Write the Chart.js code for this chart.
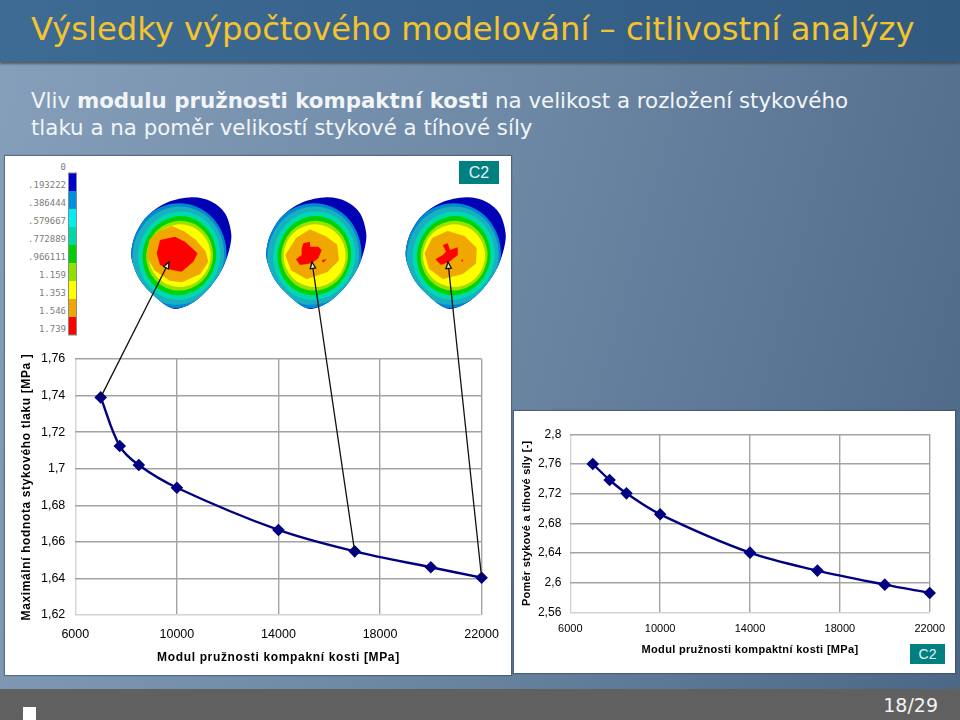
<!DOCTYPE html>
<html lang="cs">
<head>
<meta charset="utf-8">
<title>Výsledky výpočtového modelování</title>
<script src="https://cdn.jsdelivr.net/npm/chart.js@4"></script>
<style>
    html, body { margin: 0; padding: 0; }
    body {
        width: 960px; height: 720px; position: relative; overflow: hidden;
        font-family: 'DejaVu Sans', sans-serif;
        background: linear-gradient(105deg, #86a0bb 0%, #6c87a4 50%, #4c6786 100%);
    }
    .header {
        position: absolute; left: 0; top: 0; width: 960px; height: 62px;
        background: linear-gradient(90deg, #3d6b94, #36618a 50%, #315a80);
        box-shadow: 0 2px 2px rgba(70, 70, 70, 0.75);
    }
    .header h1 {
        position: absolute; left: 31px; top: 9px; margin: 0; white-space: nowrap;
        font-size: 32.2px; line-height: 40px; font-weight: normal; color: #f4c430;
    }
    .lead {
        position: absolute; left: 31px; top: 87px; margin: 0; width: 910px;
        font-size: 21.35px; line-height: 27px; color: #f2f5f8;
    }
    .footer {
        position: absolute; left: 0; top: 689px; width: 960px; height: 31px; background: #606060;
    }
    .footer .mark { position: absolute; left: 23px; top: 18px; width: 13px; height: 13px; background: #fff; }
    .footer .page { position: absolute; right: 22px; top: 3px; font-size: 19px; line-height: 26px; color: #f4f4f4; }
    .panel { position: absolute; background: #fff; box-shadow: 0 0 1px 1px rgba(60, 70, 90, 0.55); }
    .panel canvas, .panel svg { position: absolute; left: 0; top: 0; }
    .badge {
        position: absolute; background: #008080; color: #e8f2f2; text-align: center;
        font-family: 'Liberation Sans', sans-serif;
    }
</style>
</head>
<body>
<div class="header"><h1>Výsledky výpočtového modelování – citlivostní analýzy</h1></div>
<p class="lead">Vliv <b>modulu pružnosti kompaktní kosti</b> na velikost a rozložení stykového<br>tlaku a na poměr velikostí stykové a tíhové síly</p>

<div class="panel" style="left:5px;top:156px;width:506px;height:519px">
    <svg id="fem" width="506" height="330"></svg>
    <canvas id="pressureChart" width="506" height="519"></canvas>
    <div class="badge" style="left:454px;top:5px;width:40px;height:23px;font-size:16px;line-height:23px">C2</div>
</div>

<div class="panel" style="left:514px;top:411px;width:441px;height:262px">
    <canvas id="ratioChart" width="441" height="262"></canvas>
    <div class="badge" style="left:396px;top:233px;width:35px;height:20px;font-size:14px;line-height:20px">C2</div>
</div>

<div class="footer"><div class="mark"></div><div class="page">18/29</div></div>

<script>
    // hodnoty
    const modulus = [7000, 7750, 8500, 10000, 14000, 17000, 20000, 22000];
    const maxPressure = [1.739, 1.7124, 1.702, 1.6896, 1.6665, 1.6548, 1.6461, 1.6404];
    const forceRatio = [2.76, 2.7384, 2.7204, 2.6921, 2.6404, 2.6162, 2.5973, 2.5861];

    const xTicks = [6000, 10000, 14000, 18000, 22000];
    const pressureTicks = [1.62, 1.64, 1.66, 1.68, 1.7, 1.72, 1.74, 1.76];
    const ratioTicks = [2.56, 2.6, 2.64, 2.68, 2.72, 2.76, 2.8];

    // moduly, na které ukazují šipky od kontaktních map
    const arrowModuli = [7000, 17000, 22000];

    const legendLabels = ['0', '.193222', '.386444', '.579667', '.772889', '.966111', '1.159', '1.353', '1.546', '1.739'];
    const legendColors = ['#0000c8', '#0090e0', '#00f0f0', '#00d8a8', '#00d000', '#90e000', '#ffff00', '#f0a800', '#ff0000'];

    const colors = { line: '#000080', grid: '#a3a3a3', gridLight: '#d4d4d4', text: '#000' };
    const fontFamily = "'Liberation Sans', Arial, sans-serif";

    // — mapy kontaktního tlaku (jen ilustrace, žádná data)
    const smooth = pts => {
        let d = `M${pts[0][0]},${pts[0][1]}`;
        for (let i = 0; i < pts.length; i++) {
            const p0 = pts[(i - 1 + pts.length) % pts.length], p1 = pts[i];
            const p2 = pts[(i + 1) % pts.length], p3 = pts[(i + 2) % pts.length];
            d += `C${p1[0] + (p2[0] - p0[0]) / 6},${p1[1] + (p2[1] - p0[1]) / 6} ` +
                 `${p2[0] - (p3[0] - p1[0]) / 6},${p2[1] - (p3[1] - p1[1]) / 6} ${p2[0]},${p2[1]}`;
        }
        return d + 'Z';
    };
    const poly = pts => 'M' + pts.map(p => p.join(',')).join('L') + 'Z';

    const outline = [[200,22],[260,35],[300,70],[318,125],[315,170],[295,230],[260,285],[215,330],[165,355],[130,350],[85,315],[45,270],[22,215],[20,175],[35,125],[70,75],[125,38]];
    // barva, střed x, y, poloosy
    const bands = [
        ['#0088d0', 158, 197, 146, 158],
        ['#18b0c0', 160, 197, 137, 148],
        ['#00d8b0', 163, 197, 123, 133],
        ['#00d400', 163, 197, 110, 119],
        ['#9ce000', 164, 197, 100, 105],
        ['#ffff00', 164, 197, 93, 94]
    ];
    const hearts = [
        { dx: 0, orange: [[105,125],[140,110],[175,125],[210,150],[240,185],[248,215],[225,250],[170,275],[135,270],[90,240],[68,200],[75,150]],
          red: [[[105,150],[150,140],[180,155],[218,190],[205,215],[170,245],[140,240],[105,225],[95,190]]] },
        { dx: 135, orange: [[110,145],[150,120],[195,140],[230,165],[235,210],[200,245],[140,265],[95,240],[78,195]],
          red: [[[130,160],[150,155],[150,170],[175,170],[185,180],[175,205],[155,220],[120,225],[108,208],[125,195],[125,175]], [[185,210],[200,208],[190,218]]] },
        { dx: 274.4, orange: [[100,145],[145,125],[195,140],[230,175],[228,220],[190,250],[130,265],[90,235],[78,190]],
          red: [[[130,165],[145,160],[152,180],[175,172],[175,195],[150,215],[125,225],[108,208],[130,195],[140,185]], [[186,209],[191,209],[191,214],[186,214]]] }
    ];

    let femSvg = `<defs><clipPath id="egg"><path d="${smooth(outline)}"/></clipPath></defs>`;
    femSvg += `<g font-family="'DejaVu Sans Mono', monospace" font-size="9" fill="#7c7c7c" text-anchor="end">`;
    legendLabels.forEach((t, i) => { femSvg += `<text x="61" y="${14 + i * 18}">${t}</text>`; });
    femSvg += '</g>';
    legendColors.forEach((c, i) => { femSvg += `<rect x="64" y="${17 + i * 18}" width="7" height="18" fill="${c}"/>`; });
    femSvg += '<rect x="63.5" y="17" width="8" height="162" fill="none" stroke="#8a8a8a"/>';
    hearts.forEach(h => {
        femSvg += `<g transform="translate(${120 + h.dx},34) scale(0.3333)">`;
        femSvg += `<path d="${smooth(outline)}" fill="#0000b4"/><g clip-path="url(#egg)">`;
        bands.forEach(([c, cx, cy, rx, ry]) => {
            femSvg += `<ellipse cx="${cx}" cy="${cy}" rx="${rx}" ry="${ry}" fill="${c}" transform="rotate(12 ${cx} ${cy})"/>`;
        });
        femSvg += '</g>';
        femSvg += `<path d="${poly(h.orange)}" fill="#f0a800" stroke="#f0a800" stroke-width="4" stroke-linejoin="round"/>`;
        h.red.forEach(r => { femSvg += `<path d="${poly(r)}" fill="#ff0000"/>`; });
        femSvg += '</g>';
    });
    document.getElementById('fem').innerHTML = femSvg;

    // — šipka od bodu grafu k mapě
    const arrowPlugin = {
        id: 'fieldArrows',
        afterDraw(chart, args, opts) {
            if (!opts.tips) return;
            const { ctx, scales } = chart;
            ctx.save();
            ctx.strokeStyle = '#111';
            ctx.fillStyle = '#f4ecd0';
            ctx.lineWidth = 1.3;
            arrowModuli.forEach((m, i) => {
                const x0 = scales.x.getPixelForValue(m);
                const y0 = scales.y.getPixelForValue(maxPressure[modulus.indexOf(m)]);
                const [x1, y1] = opts.tips[i];
                const a = Math.atan2(y1 - y0, x1 - x0);
                ctx.beginPath();
                ctx.moveTo(x0, y0);
                ctx.lineTo(x1, y1);
                ctx.stroke();
                ctx.beginPath();
                ctx.moveTo(x1, y1);
                ctx.lineTo(x1 - 7 * Math.cos(a - 0.4), y1 - 7 * Math.sin(a - 0.4));
                ctx.lineTo(x1 - 7 * Math.cos(a + 0.4), y1 - 7 * Math.sin(a + 0.4));
                ctx.closePath();
                ctx.fill();
                ctx.stroke();
            });
            ctx.restore();
        }
    };

    // — názvy os mají v originále proložené písmo
    const titleSpacing = {
        id: 'titleSpacing',
        beforeDraw(chart) {
            Object.values(chart.scales).forEach(s => {
                if (s.spaced) return;
                const draw = s.drawTitle.bind(s);
                s.drawTitle = () => {
                    chart.ctx.letterSpacing = s.options.title.spacing;
                    draw();
                    chart.ctx.letterSpacing = '0px';
                };
                s.spaced = true;
            });
        }
    };

    const createChart = (id, cfg) => new Chart(document.getElementById(id).getContext('2d'), {
        type: 'line',
        plugins: [arrowPlugin, titleSpacing],
        data: {
            datasets: [{
                data: modulus.map((x, i) => ({ x, y: cfg.values[i] })),
                borderColor: colors.line,
                backgroundColor: colors.line,
                borderWidth: 2.4,
                tension: 0.35,
                pointStyle: 'rectRot',
                pointRadius: 4.6,
                pointHoverRadius: 4.6,
                clip: false
            }]
        },
        options: {
            responsive: false,
            animation: false,
            layout: { padding: cfg.padding },
            plugins: {
                legend: { display: false },
                tooltip: { enabled: false },
                fieldArrows: { tips: cfg.tips }
            },
            scales: {
                x: {
                    type: 'linear',
                    min: xTicks[0],
                    max: xTicks[xTicks.length - 1],
                    afterBuildTicks: s => { s.ticks = xTicks.map(value => ({ value })); },
                    afterFit: s => { s.height = cfg.xHeight; },
                    ticks: {
                        color: colors.text, padding: cfg.xPad, maxRotation: 0, autoSkip: false,
                        font: { family: fontFamily, size: cfg.xSize },
                        callback: v => String(v)
                    },
                    border: { display: false },
                    grid: {
                        drawTicks: false, lineWidth: 1.4,
                        color: c => c.index === 0 ? colors.gridLight : colors.grid
                    },
                    title: {
                        display: true, text: cfg.xTitle, color: colors.text, padding: 0, spacing: cfg.xSpacing,
                        font: { family: fontFamily, size: cfg.titleSize, weight: 'bold' }
                    }
                },
                y: {
                    min: cfg.yTicks[0],
                    max: cfg.yTicks[cfg.yTicks.length - 1],
                    afterBuildTicks: s => { s.ticks = cfg.yTicks.map(value => ({ value })); },
                    afterFit: s => { s.width = cfg.yWidth; },
                    ticks: {
                        color: colors.text, padding: cfg.yPad, autoSkip: false,
                        font: { family: fontFamily, size: cfg.ySize },
                        callback: v => String(v).replace('.', ',')
                    },
                    border: { display: false },
                    grid: {
                        drawTicks: false, lineWidth: 1.4,
                        color: c => c.index === 0 ? colors.gridLight : colors.grid
                    },
                    title: {
                        display: true, text: cfg.yTitle, color: colors.text, padding: 0, spacing: cfg.ySpacing,
                        font: { family: fontFamily, size: cfg.titleSize, weight: 'bold' }
                    }
                }
            }
        }
    });

    // — Maximální hodnota stykového tlaku
    createChart('pressureChart', {
        values: maxPressure,
        yTicks: pressureTicks,
        xTitle: 'Modul pružnosti kompakní kosti [MPa]',
        yTitle: 'Maximální hodnota stykového tlaku [MPa ]',
        padding: { left: 14, right: 28.3, top: 203, bottom: 10 },
        xHeight: 50, yWidth: 56.3,
        xPad: 12, yPad: 10,
        xSize: 12.5, ySize: 12.5, titleSize: 12,
        xSpacing: '0.65px', ySpacing: '0.62px',
        tips: [[164, 106], [307, 106], [443, 106]]
    });

    // — Poměr styčné a tíhové síly
    createChart('ratioChart', {
        values: forceRatio,
        yTicks: ratioTicks,
        xTitle: 'Modul pružnosti kompaktní kosti [MPa]',
        yTitle: 'Poměr stykové a tíhové síly [-]',
        padding: { left: 6.5, right: 22.7, top: 23.3, bottom: 16 },
        xHeight: 44.7, yWidth: 49.8,
        xPad: 10, yPad: 9,
        xSize: 11, ySize: 12, titleSize: 11,
        xSpacing: '0.33px', ySpacing: '0.23px'
    });
</script>
</body>
</html>
